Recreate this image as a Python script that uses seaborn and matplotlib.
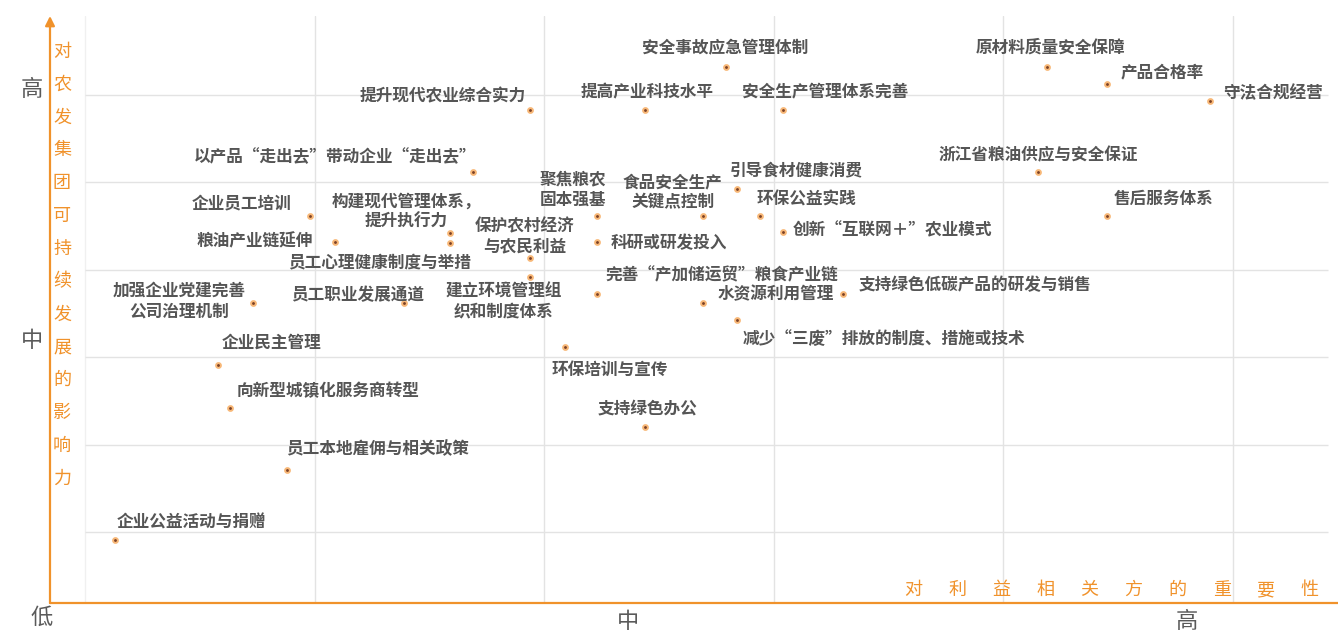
import matplotlib
matplotlib.use("Agg")
import matplotlib.pyplot as plt
import seaborn as sns
import pandas as pd

sns.set_theme(style="white")
plt.rcParams['font.family'] = ['Noto Sans CJK SC', 'DejaVu Sans']

ORANGE = "#F0922B"
GREY_TXT = "#555555"

# --- data (importance to stakeholders, influence on sustainable development) ---
issues = [
    "安全事故应急管理体制", "原材料质量安全保障", "产品合格率", "守法合规经营",
    "提升现代农业综合实力", "提高产业科技水平", "安全生产管理体系完善",
    "以产品“走出去”带动企业“走出去”", "浙江省粮油供应与安全保证", "引导食材健康消费",
    "聚焦粮农\n固本强基", "食品安全生产\n关键点控制", "环保公益实践", "企业员工培训",
    "构建现代管理体系，\n提升执行力", "员工心理健康制度与举措", "粮油产业链延伸",
    "科研或研发投入", "创新“互联网＋”农业模式", "售后服务体系",
    "保护农村经济\n与农民利益", "建立环境管理组\n织和制度体系", "完善“产加储运贸”粮食产业链",
    "支持绿色低碳产品的研发与销售", "水资源利用管理", "减少“三废”排放的制度、措施或技术",
    "加强企业党建完善\n公司治理机制", "员工职业发展通道", "企业民主管理", "环保培训与宣传",
    "向新型城镇化服务商转型", "支持绿色办公", "员工本地雇佣与相关政策", "企业公益活动与捐赠",
]
importance = [
    2.79, 4.19, 4.45, 4.90,
    1.94, 2.44, 3.04,
    1.69, 4.15, 2.84,
    2.23, 2.69, 2.94, 0.98,
    1.59, 1.59, 1.09,
    2.23, 3.04, 4.45,
    1.94, 1.94, 2.23,
    3.30, 2.69, 2.84,
    0.73, 1.39, 0.58, 2.09,
    0.63, 2.44, 0.88, 0.13,
]
influence = [
    6.32, 6.32, 6.13, 5.93,
    5.83, 5.83, 5.83,
    5.12, 5.12, 4.93,
    4.62, 4.62, 4.62, 4.62,
    4.42, 4.31, 4.32,
    4.32, 4.43, 4.62,
    4.13, 3.92, 3.72,
    3.72, 3.62, 3.43,
    3.62, 3.62, 2.91, 3.12,
    2.42, 2.20, 1.71, 0.91,
]
x_ticks = [2.365, 4.80]
x_labels = ["中", "高"]
y_ticks = [3.22, 6.09]
y_labels = ["中", "高"]
y_title = "对农发集团可持续发展的影响力"
x_title = "对利益相关方的重要性"

# label placement (pixel offsets from the dot, horizontal alignment)
label_pos = [
    (0, 19, "center"), (3, 19, "center"), (14, 11, "left"), (13, 8, "left"),
    (-5, 13, "right"), (2, 17, "center"), (-41, 18, "left"),
    (3, 15, "right"), (0, 17, "center"), (-7, 17, "left"),
    (-24, 26, "center"), (-30, 23, "center"), (-3, 16, "left"), (-19, 12, "right"),
    (-44, 21, "center"), (21, -20, "right"), (-22, 0, "right"),
    (14, -1, "left"), (10, 2, "left"), (7, 17, "left"),
    (-6, 22, "center"), (-27, -25, "center"), (8, 19, "left"),
    (16, 9, "left"), (15, 9, "left"), (6, -19, "left"),
    (-73, 2, "center"), (-47, 8, "center"), (4, 22, "left"), (-13, -23, "left"),
    (7, 17, "left"), (2, 18, "center"), (-1, 21, "left"), (2, 17, "left"),
]

df = pd.DataFrame({"issue": issues, "importance": importance, "influence": influence})

fig = plt.figure(figsize=(13.38, 6.31), dpi=100)
ax = fig.add_axes([50 / 1338, 28 / 631, 1288 / 1338, 587 / 631])
ax.set_xlim(-0.1524, 5.457)
ax.set_ylim(0.1876, 6.904)

# grid
for gx in range(0, 6):
    ax.axvline(gx, color="#e3e3e3" if gx else "#f0f0f0", lw=1, zorder=0)
ax.hlines(range(1, 7), 0, 5.414, color="#e3e3e3", lw=1, zorder=0)

sns.scatterplot(data=df, x="importance", y="influence", ax=ax, s=12,
                color="#7a4026", edgecolor="#f8b878", linewidth=1.4, zorder=3)

for (name, xi, yi), (dx, dy, ha) in zip(zip(issues, importance, influence), label_pos):
    ax.annotate(name, (xi, yi), xytext=(dx, dy), textcoords="offset pixels",
                ha=ha, va="center", fontsize=12, color=GREY_TXT, fontweight="bold",
                linespacing=1.15, multialignment="center", zorder=4)

# axes
for side in ["top", "right", "left", "bottom"]:
    ax.spines[side].set_visible(False)
ax.annotate("", xy=(0, 1.0), xytext=(0, 0), xycoords="axes fraction",
            arrowprops=dict(arrowstyle="-|>", color=ORANGE, lw=1.6,
                            mutation_scale=14, shrinkA=0, shrinkB=0))
ax.axhline(ax.get_ylim()[0], color=ORANGE, lw=1.6, clip_on=False)

ax.set_xticks(x_ticks, x_labels)
ax.set_yticks(y_ticks, y_labels)
ax.tick_params(length=0, labelsize=16, labelcolor="#5a5a5a", pad=5)
ax.set_xlabel("")
ax.set_ylabel("")
fig.text(42 / 1338, 1 - 617 / 631, "低", fontsize=16, color="#5a5a5a",
         ha="center", va="center")

for i, ch in enumerate(y_title):
    fig.text(62 / 1338, 1 - (57 + i * 32.8) / 631, ch, fontsize=13,
             color=ORANGE, ha="center", va="baseline")
for i, ch in enumerate(x_title):
    fig.text((913 + i * 44.1) / 1338, 1 - 595 / 631, ch, fontsize=13,
             color=ORANGE, ha="center", va="baseline")

fig.savefig("out.png", dpi=100)
